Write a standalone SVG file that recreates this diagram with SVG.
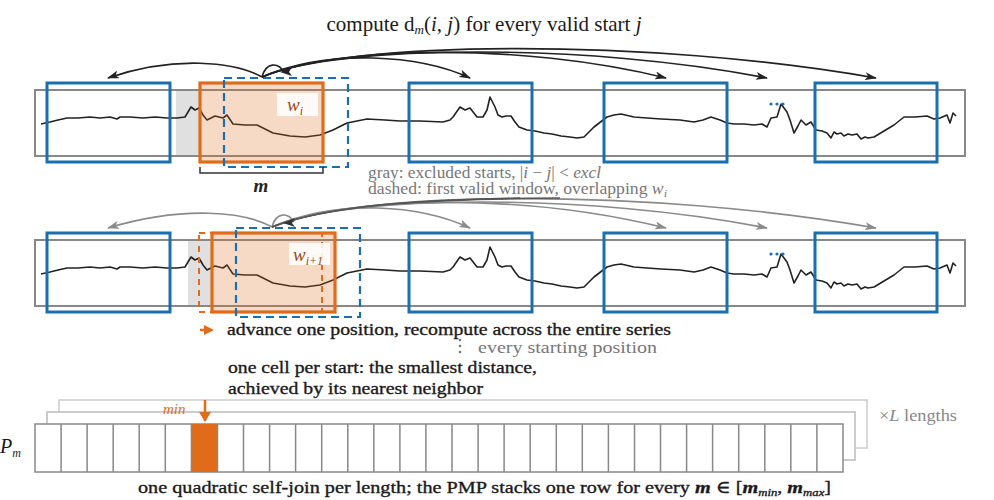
<svg xmlns="http://www.w3.org/2000/svg" xmlns:xlink="http://www.w3.org/1999/xlink" width="994" height="500" viewBox="0 0 994 500">
<style>
text{font-family:"Liberation Serif","DejaVu Serif",serif;}
.series{fill:none;stroke:#222;stroke-width:1.6;stroke-linejoin:round}
.frame{fill:none;stroke:#888;stroke-width:2}
.excl{fill:#e0e0e0}
.win{fill:none;stroke:#1a6fae;stroke-width:3}
.cur{fill:#e06b1a;fill-opacity:0.25;stroke:#e06b1a;stroke-width:3.2}
.dash{fill:none;stroke:#1a6fae;stroke-width:2.2;stroke-dasharray:8 5}
.odash{fill:none;stroke:#e06b1a;stroke-width:2;stroke-dasharray:6 5}
.lbl{fill:#fff;fill-opacity:0.85}
.wl{font-style:italic;fill:#a0480f;font-size:19px}
.dot{fill:#1a6fae}
.a1{fill:none;stroke:#222;stroke-width:1.6}
.a2{fill:none;stroke:#8a8a8a;stroke-width:1.6}
.a2d{fill:none;stroke:#555;stroke-width:1.4}
.note{fill:#777;font-size:16px}
.main{fill:#1a1a1a;font-size:17.5px;stroke:#1a1a1a;stroke-width:0.35}
.cell{fill:#fff;stroke:#888;stroke-width:1.5}
</style>
<defs>
<marker id="ahk" viewBox="0 0 12 8" refX="11" refY="4" markerWidth="12" markerHeight="8" markerUnits="userSpaceOnUse" orient="auto"><path d="M0,0 L12,4 L0,8 L3,4 Z" fill="#222"/></marker>
<marker id="ahg" viewBox="0 0 12 8" refX="11" refY="4" markerWidth="12" markerHeight="8" markerUnits="userSpaceOnUse" orient="auto"><path d="M0,0 L12,4 L0,8 L3,4 Z" fill="#8a8a8a"/></marker>
<marker id="aho" viewBox="0 0 12 10" refX="6" refY="9" markerWidth="12" markerHeight="10" markerUnits="userSpaceOnUse" orient="0"><path d="M0,0 L12,0 L6,10 Z" fill="#e06b1a"/></marker>
<polyline id="ts" class="series" points="41,124 50,122 58,120 67,118 78,118 90,117 100,118 110,117 117,119 120,117 130,117 143,118 155,117 167,118 177,118 185,117 191,107 195,110 199,108 203,115 207,120 215,116 223,118 227,115 233,124 245,125 257,125 265,129 273,133 290,136 305,137 320,135 333,130 347,123 367,119 385,120 400,121 420,121 443,122 450,120 453,117 460,107 465,110 470,108 477,117 483,117 487,110 490,97 495,107 498,115 502,117 506,116 511,116 515,122 519,127 527,130 535,131 544,133 552,134 561,136 570,137 577,138 584,137 594,127 607,117 614,115 621,114 634,117 647,118 661,119 680,120 694,122 703,120 711,117 720,120 727,123 734,124 744,124 754,125 762,124 767,127 771,118 777,117 781,104 784,108 787,112 790,120 794,133 798,126 801,120 806,125 811,122 816,130 822,131 827,133 831,138 834,132 837,134 841,133 844,136 848,134 852,135 857,134 861,139 865,137 868,138 874,137 884,131 894,125 904,117 915,117 927,116 934,119 940,118 947,115 950,123 953,113 956,116"/>
</defs>
<rect width="994" height="500" fill="#fff"/>

<text x="484" y="31" text-anchor="middle" style="font-size:21px;fill:#1a1a1a">compute d<tspan font-size="13" dy="3" font-style="italic">m</tspan><tspan dy="-3">(</tspan><tspan font-style="italic">i</tspan>, <tspan font-style="italic">j</tspan>) for every valid start <tspan font-style="italic">j</tspan></text>

<g id="row1">
<rect class="excl" x="176" y="90" width="23" height="66"/>
<rect class="frame" x="35" y="90" width="930" height="66"/>
<use xlink:href="#ts"/>
<rect class="win" x="47" y="83" width="123" height="79"/>
<rect class="win" x="409" y="83" width="123" height="79"/>
<rect class="win" x="604" y="83" width="123" height="79"/>
<rect class="win" x="815" y="83" width="122" height="79"/>
<rect class="cur" x="200" y="83" width="123" height="79"/>
<rect class="dash" x="224" y="78" width="124" height="89"/>
<rect class="lbl" x="277" y="93" width="41" height="23"/>
<text class="wl" x="287" y="111">w<tspan font-size="12" dy="4">i</tspan></text>
<circle class="dot" cx="771" cy="104" r="1.6"/><circle class="dot" cx="777" cy="104" r="1.6"/><circle class="dot" cx="783" cy="104" r="1.6"/>
<path d="M200,167 V173 H323 V167" fill="none" stroke="#333" stroke-width="1.5"/>
<text x="261" y="192" text-anchor="middle" style="font-size:19px;font-style:italic;font-weight:bold;fill:#222">m</text>
<text class="note" x="368" y="178" textLength="233" lengthAdjust="spacingAndGlyphs">gray: excluded starts, |<tspan font-style="italic">i</tspan> − <tspan font-style="italic">j</tspan>| &lt; <tspan font-style="italic">excl</tspan></text>
<text class="note" x="368" y="194" textLength="299" lengthAdjust="spacingAndGlyphs">dashed: first valid window, overlapping <tspan font-style="italic">w</tspan><tspan font-style="italic" font-size="11" dy="3">i</tspan></text>
</g>

<g id="row2">
<rect class="excl" x="188" y="240" width="23" height="66"/>
<rect class="frame" x="35" y="240" width="930" height="66"/>
<use xlink:href="#ts" transform="translate(0,150)"/>
<rect class="win" x="47" y="233" width="123" height="79"/>
<rect class="win" x="409" y="233" width="123" height="79"/>
<rect class="win" x="604" y="233" width="123" height="79"/>
<rect class="win" x="815" y="233" width="122" height="79"/>
<rect class="odash" x="199" y="233" width="123" height="79"/>
<rect class="cur" x="212" y="233" width="123" height="79"/>
<rect class="dash" x="236" y="228" width="124" height="89"/>
<rect class="lbl" x="289" y="243" width="41" height="22"/>
<text class="wl" x="293" y="261">w<tspan font-size="12" dy="4">i+1</tspan></text>
<circle class="dot" cx="771" cy="254" r="1.6"/><circle class="dot" cx="777" cy="254" r="1.6"/><circle class="dot" cx="783" cy="254" r="1.6"/>
<path d="M200,330 H206" stroke="#e06b1a" stroke-width="2.5"/>
<path d="M204,325 L214,330 L204,335 Z" fill="#e06b1a"/>
<text class="main" x="227" y="335" textLength="444" lengthAdjust="spacingAndGlyphs">advance one position, recompute across the entire series</text>
<circle cx="460" cy="340" r="1.3" fill="#777"/><circle cx="460" cy="346" r="1.3" fill="#777"/><circle cx="460" cy="352" r="1.3" fill="#777"/>
<text x="478" y="353" style="fill:#777;font-size:16.5px" textLength="179" lengthAdjust="spacingAndGlyphs">every starting position</text>
</g>

<g id="connectors">
<path class="a1" d="M262,77 C235,62 175,55 108,78" marker-end="url(#ahk)"/>
<path class="a1" d="M262,77 C266,62 278,62 284,72"/>
<path class="a1" d="M262,77 C330,48 420,55 470,78" marker-end="url(#ahk)"/>
<path class="a1" d="M262,77 C335,46 520,42 666,78" marker-end="url(#ahk)"/>
<path class="a1" d="M262,77 C340,44 590,43 767,78" marker-end="url(#ahk)"/>
<path class="a1" d="M262,77 C345,40 650,38 876,78" marker-end="url(#ahk)"/>
<path d="M280,72 L292,67 L289,72 L292,76 Z" fill="#222"/>
<path class="a2" d="M272,227 C245,212 185,205 108,228" marker-end="url(#ahg)"/>
<path class="a2" d="M272,227 C276,212 288,212 294,222"/>
<path class="a2" d="M272,227 C340,198 420,205 470,228" marker-end="url(#ahg)"/>
<path class="a2" d="M272,227 C345,196 520,192 666,228" marker-end="url(#ahg)"/>
<path class="a2" d="M272,227 C350,194 590,193 767,228" marker-end="url(#ahg)"/>
<path class="a2" d="M272,227 C355,190 650,188 876,228" marker-end="url(#ahg)"/>
<path class="a2d" d="M272,227 C330,205 420,200 520,198"/>
<path class="a2d" d="M272,227 C335,203 440,199 560,198"/>
<path d="M283,223 L295,218 L292,223 L295,227 Z" fill="#333"/>
</g>

<g id="notes">
<text class="main" x="228" y="373" textLength="309" lengthAdjust="spacingAndGlyphs">one cell per start: the smallest distance,</text>
<text class="main" x="228" y="394" textLength="255" lengthAdjust="spacingAndGlyphs">achieved by its nearest neighbor</text>
</g>

<g id="pmp">
<rect x="59" y="400" width="808" height="48" fill="#fff" stroke="#ccc" stroke-width="1.5"/>
<rect x="47" y="412" width="808" height="48" fill="#fff" stroke="#bbb" stroke-width="1.5"/>
<g id="cells">
<rect class="cell" x="35" y="424" width="808" height="48"/>
<rect x="191.4" y="424" width="26.1" height="48" fill="#e06b1a"/>
<path d="M61.1,424V472 M87.1,424V472 M113.2,424V472 M139.2,424V472 M165.3,424V472 M191.4,424V472 M217.5,424V472 M243.5,424V472 M269.6,424V472 M295.6,424V472 M321.7,424V472 M347.8,424V472 M373.8,424V472 M399.9,424V472 M425.9,424V472 M452,424V472 M478.1,424V472 M504.1,424V472 M530.2,424V472 M556.3,424V472 M582.3,424V472 M608.4,424V472 M634.5,424V472 M660.5,424V472 M686.6,424V472 M712.6,424V472 M738.7,424V472 M764.8,424V472 M790.8,424V472 M816.9,424V472" stroke="#888" stroke-width="1.5"/>
</g>
<path d="M205,400 V421" stroke="#e06b1a" stroke-width="2.5" marker-end="url(#aho)"/>
<text x="163" y="414" style="fill:#e06b1a;font-size:15px;font-style:italic">min</text>
<text x="0" y="453" style="font-size:20px;font-style:italic;fill:#1a1a1a">P<tspan font-size="12" dy="4">m</tspan></text>
<text x="879" y="421" style="fill:#888;font-size:17px" textLength="78" lengthAdjust="spacingAndGlyphs">×<tspan font-style="italic">L</tspan> lengths</text>
<text class="main" x="138" y="493" textLength="693" lengthAdjust="spacingAndGlyphs">one quadratic self-join per length; the PMP stacks one row for every <tspan font-style="italic" font-weight="bold">m</tspan> ∈ [<tspan font-style="italic" font-weight="bold">m</tspan><tspan font-style="italic" font-size="11" dy="3">min</tspan><tspan dy="-3">, </tspan><tspan font-style="italic" font-weight="bold">m</tspan><tspan font-style="italic" font-size="11" dy="3">max</tspan><tspan dy="-3">]</tspan></text>
</g>
</svg>
